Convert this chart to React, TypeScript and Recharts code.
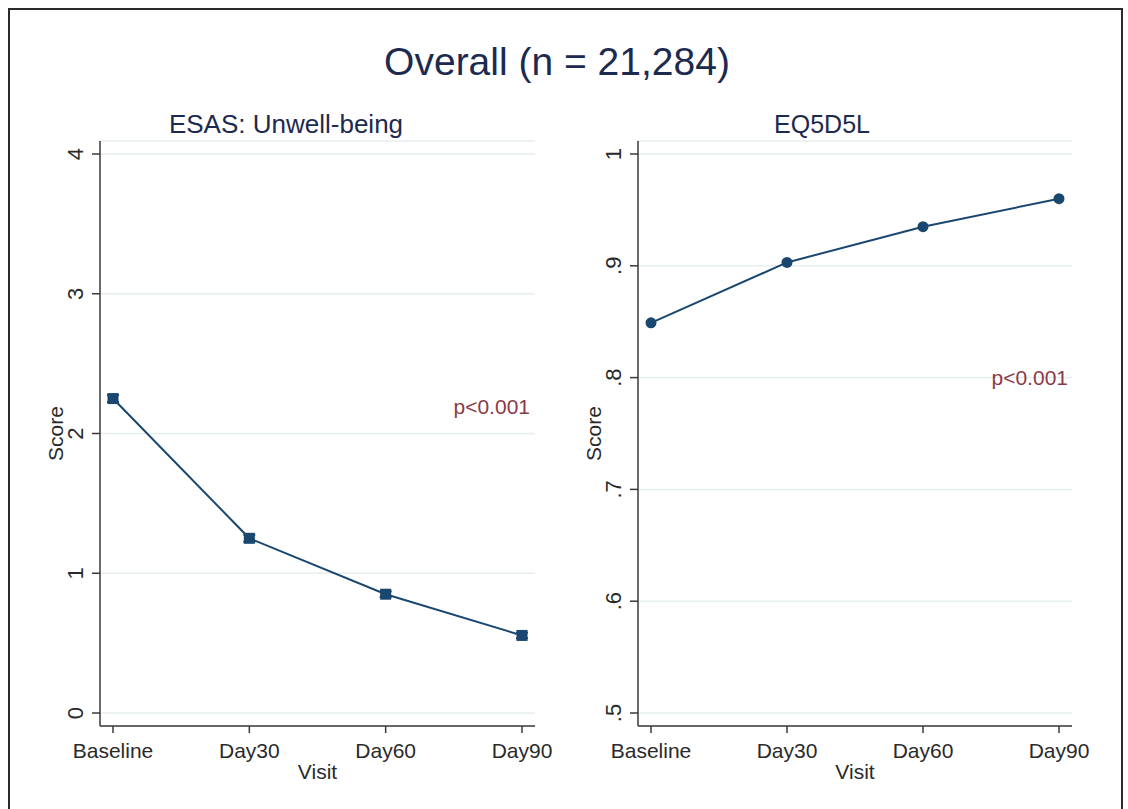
import { LineChart, Line, XAxis, YAxis, CartesianGrid, ErrorBar } from 'recharts';

const visits = ['Baseline', 'Day30', 'Day60', 'Day90'];
const esasScore = [2.25, 1.25, 0.85, 0.555];
const esasCi = [0.025, 0.025, 0.02, 0.02];
const eqScore = [0.849, 0.903, 0.935, 0.96];
const esasTicks = [0, 1, 2, 3, 4];
const eqTicks = [0.5, 0.6, 0.7, 0.8, 0.9, 1];

const NAVY = '#1a476f';
const AXIS = '#3a3a3a';
const GRID = '#e6eef0';
const FONT = '"Liberation Sans", Arial, sans-serif';

const esasData = visits.map((v, i) => ({ visit: v, score: esasScore[i], ci: esasCi[i] }));
const eqData = visits.map((v, i) => ({ visit: v, score: eqScore[i] }));

const fmtEq = (v: number) => (v === 1 ? '1' : String(v).replace(/^0/, ''));

function XTick({ x, y, payload }: any) {
  return (
    <text x={x} y={y + 25} textAnchor="middle" fontSize={21} fill="#2a2a2a" fontFamily={FONT}>
      {payload.value}
    </text>
  );
}

function makeYTick(fmt: (v: number) => string) {
  return ({ x, y, payload }: any) => (
    <text
      x={0}
      y={0}
      transform={`translate(${x - 9},${y}) rotate(-90)`}
      textAnchor="middle"
      fontSize={22}
      fill="#2a2a2a"
      fontFamily={FONT}
    >
      {fmt(payload.value)}
    </text>
  );
}

const squareDot = (p: any) => (
  <rect key={`s${p.index}`} x={p.cx - 5.5} y={p.cy - 5.5} width={11} height={11} fill={NAVY} />
);
const circleDot = (p: any) => <circle key={`c${p.index}`} cx={p.cx} cy={p.cy} r={5.5} fill={NAVY} />;

const scoreLabel = (props: any) => {
  const vb = props.viewBox;
  const x = vb.x + vb.width - 37;
  const y = vb.y + vb.height / 2;
  return (
    <text x={x} y={y} transform={`rotate(-90, ${x}, ${y})`} textAnchor="middle" fontSize={21} fill="#2a2a2a" fontFamily={FONT}>
      Score
    </text>
  );
};

const visitLabel = (props: any) => {
  const vb = props.viewBox;
  return (
    <text x={vb.x + vb.width / 2} y={vb.y + 53} textAnchor="middle" fontSize={21} fill="#2a2a2a" fontFamily={FONT}>
      Visit
    </text>
  );
};

interface PanelProps {
  data: { visit: string; score: number; ci?: number }[];
  ticks: number[];
  domain: [number, number];
  fmt: (v: number) => string;
  dot: (p: any) => any;
  showCi: boolean;
  margin: { top: number; right: number; bottom: number; left: number };
}

function Panel({ data, ticks, domain, fmt, dot, showCi, margin }: PanelProps) {
  return (
    <LineChart width={564} height={809} data={data} margin={margin}>
      <CartesianGrid vertical={false} stroke={GRID} strokeWidth={1.5} />
      <XAxis
        dataKey="visit"
        padding={{ left: 13, right: 13 }}
        height={60}
        tickSize={7}
        tickMargin={0}
        tick={XTick}
        stroke={AXIS}
        strokeWidth={1.5}
        label={{ content: visitLabel }}
      />
      <YAxis
        type="number"
        domain={domain}
        ticks={ticks}
        interval={0}
        padding={{ top: 13, bottom: 13 }}
        width={70}
        tickSize={8}
        tickMargin={0}
        tick={makeYTick(fmt)}
        stroke={AXIS}
        strokeWidth={1.5}
        label={{ content: scoreLabel }}
      />
      <Line
        type="linear"
        dataKey="score"
        stroke={NAVY}
        strokeWidth={2}
        dot={dot}
        activeDot={false}
        isAnimationActive={false}
      >
        {showCi && <ErrorBar dataKey="ci" width={6} stroke={NAVY} strokeWidth={2} direction="y" />}
      </Line>
    </LineChart>
  );
}

export default function App() {
  return (
    <div
      style={{
        position: 'absolute',
        left: 0,
        top: 0,
        width: 1128,
        height: 809,
        overflow: 'hidden',
        background: '#fff',
        fontFamily: FONT,
      }}
    >
      <div
        style={{
          position: 'absolute',
          left: 8,
          top: 8,
          width: 1111,
          height: 830,
          border: '2px solid #2a2a2a',
        }}
      />
      <div style={{ position: 'absolute', left: 0, top: 0 }}>
        <Panel
          data={esasData}
          ticks={esasTicks}
          domain={[0, 4]}
          fmt={(v) => String(v)}
          dot={squareDot}
          showCi
          margin={{ top: 141, right: 29, bottom: 23, left: 30 }}
        />
      </div>
      <div style={{ position: 'absolute', left: 564, top: 0 }}>
        <Panel
          data={eqData}
          ticks={eqTicks}
          domain={[0.5, 1]}
          fmt={fmtEq}
          dot={circleDot}
          showCi={false}
          margin={{ top: 141, right: 56, bottom: 23, left: 4 }}
        />
      </div>
      <svg width={1128} height={809} style={{ position: 'absolute', left: 0, top: 0, pointerEvents: 'none' }}>
        <text x={557} y={75} textAnchor="middle" fontSize={39} fill="#1c2a4f" fontFamily={FONT}>
          Overall (n = 21,284)
        </text>
        <text x={286} y={133} textAnchor="middle" fontSize={26} fill="#1c2a4f" fontFamily={FONT}>
          ESAS: Unwell-being
        </text>
        <text x={822} y={133} textAnchor="middle" fontSize={25} fill="#1c2a4f" fontFamily={FONT}>
          EQ5D5L
        </text>
        <text x={530} y={414} textAnchor="end" fontSize={21} fill="#8b3a46" fontFamily={FONT}>
          p&lt;0.001
        </text>
        <text x={1068} y={385} textAnchor="end" fontSize={21} fill="#8b3a46" fontFamily={FONT}>
          p&lt;0.001
        </text>
      </svg>
    </div>
  );
}
